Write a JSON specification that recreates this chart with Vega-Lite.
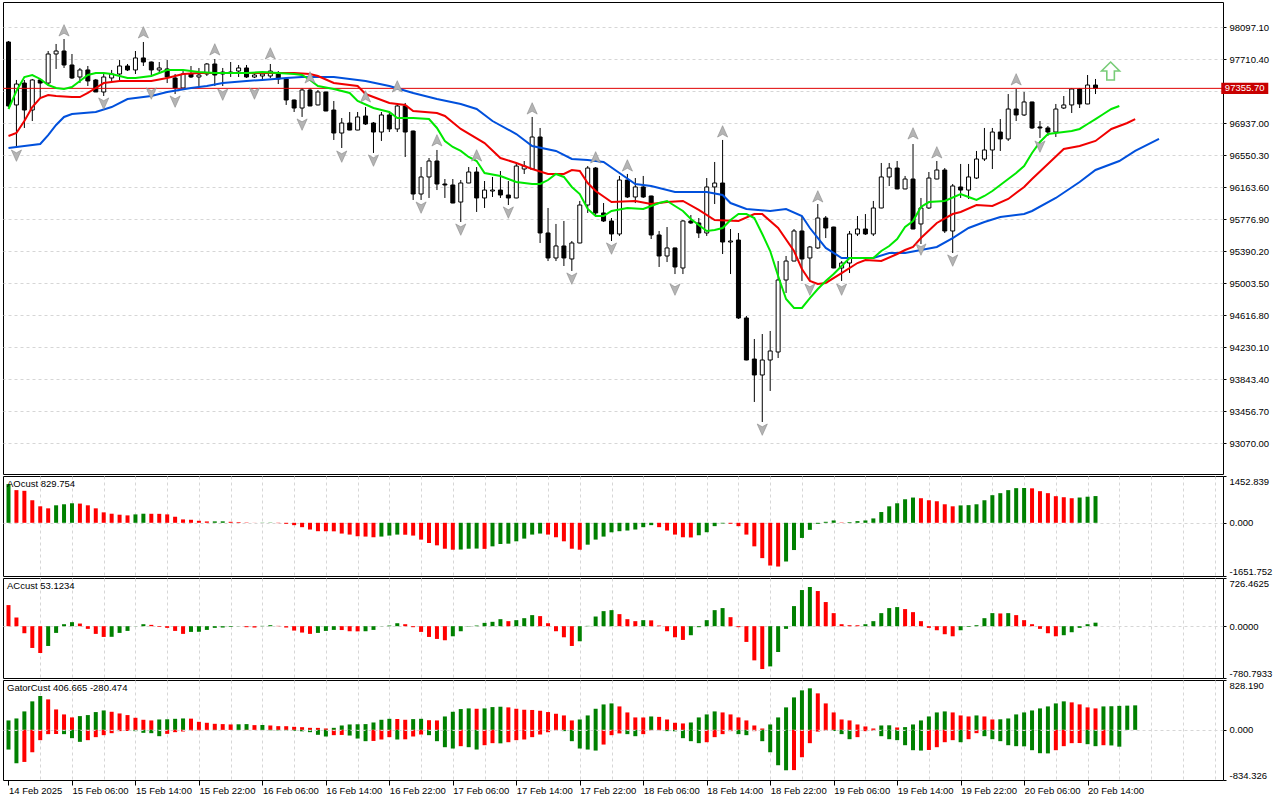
{
  "$schema": "https://vega.github.io/schema/vega-lite/v6.json",
  "background": "#ffffff",
  "padding": {"left": 2, "top": 1, "right": 0, "bottom": 0},
  "spacing": 2,
  "bounds": "flush",
  "resolve": {"scale": {"color": "independent", "shape": "independent"}},
  "config": {
    "font": "Liberation Sans",
    "view": {"stroke": "#000000", "strokeWidth": 1},
    "axis": {
      "labelFont": "Liberation Sans",
      "labelFontSize": 9.5,
      "labelColor": "#000000",
      "tickColor": "#000000",
      "gridColor": "#d6d6d6",
      "gridDash": [3, 3],
      "domain": false,
      "labelOverlap": false
    },
    "title": {
      "font": "Liberation Sans",
      "fontSize": 9.5,
      "fontWeight": "normal",
      "color": "#000000",
      "anchor": "start",
      "orient": "top",
      "offset": -13,
      "baseline": "alphabetic",
      "dx": 4,
      "frame": "group"
    }
  },
  "datasets": {
    "bars": [
      {"i":0,"o":97916,"h":97928,"l":97130,"c":97143},
      {"i":1,"o":97155,"h":97457,"l":96635,"c":97408},
      {"i":2,"o":97420,"h":97457,"l":96877,"c":97094},
      {"i":3,"o":97094,"h":97469,"l":96961,"c":97457},
      {"i":4,"o":97457,"h":97469,"l":97239,"c":97420},
      {"i":5,"o":97420,"h":97807,"l":97408,"c":97771},
      {"i":6,"o":97771,"h":97892,"l":97590,"c":97807},
      {"i":7,"o":97807,"h":97952,"l":97602,"c":97638},
      {"i":8,"o":97638,"h":97771,"l":97469,"c":97481},
      {"i":9,"o":97493,"h":97602,"l":97420,"c":97578},
      {"i":10,"o":97578,"h":97626,"l":97384,"c":97445},
      {"i":11,"o":97457,"h":97469,"l":97312,"c":97312},
      {"i":12,"o":97312,"h":97529,"l":97263,"c":97493},
      {"i":13,"o":97481,"h":97578,"l":97445,"c":97529},
      {"i":14,"o":97529,"h":97698,"l":97445,"c":97626},
      {"i":15,"o":97626,"h":97650,"l":97565,"c":97578},
      {"i":16,"o":97578,"h":97807,"l":97529,"c":97723},
      {"i":17,"o":97723,"h":97916,"l":97626,"c":97674},
      {"i":18,"o":97674,"h":97680,"l":97505,"c":97578},
      {"i":19,"o":97578,"h":97674,"l":97541,"c":97602},
      {"i":20,"o":97590,"h":97698,"l":97420,"c":97493},
      {"i":21,"o":97481,"h":97529,"l":97287,"c":97360},
      {"i":22,"o":97360,"h":97565,"l":97355,"c":97529},
      {"i":23,"o":97529,"h":97626,"l":97481,"c":97493},
      {"i":24,"o":97493,"h":97602,"l":97384,"c":97517},
      {"i":25,"o":97529,"h":97662,"l":97505,"c":97650},
      {"i":26,"o":97650,"h":97710,"l":97384,"c":97517},
      {"i":27,"o":97553,"h":97602,"l":97384,"c":97529},
      {"i":28,"o":97553,"h":97674,"l":97493,"c":97541},
      {"i":29,"o":97565,"h":97638,"l":97493,"c":97602},
      {"i":30,"o":97602,"h":97638,"l":97481,"c":97493},
      {"i":31,"o":97493,"h":97553,"l":97481,"c":97517},
      {"i":32,"o":97505,"h":97553,"l":97445,"c":97529},
      {"i":33,"o":97505,"h":97650,"l":97481,"c":97565},
      {"i":34,"o":97541,"h":97565,"l":97408,"c":97469},
      {"i":35,"o":97469,"h":97481,"l":97155,"c":97215},
      {"i":36,"o":97215,"h":97220,"l":97070,"c":97118},
      {"i":37,"o":97118,"h":97360,"l":97010,"c":97336},
      {"i":38,"o":97336,"h":97360,"l":97140,"c":97143},
      {"i":39,"o":97155,"h":97336,"l":97150,"c":97312},
      {"i":40,"o":97312,"h":97315,"l":97080,"c":97082},
      {"i":41,"o":97094,"h":97203,"l":96732,"c":96816},
      {"i":42,"o":96816,"h":96997,"l":96635,"c":96937},
      {"i":43,"o":96937,"h":97070,"l":96850,"c":96852},
      {"i":44,"o":96852,"h":97070,"l":96850,"c":97010},
      {"i":45,"o":97022,"h":97130,"l":96913,"c":96925},
      {"i":46,"o":96937,"h":96949,"l":96575,"c":96828},
      {"i":47,"o":96828,"h":97070,"l":96720,"c":97034},
      {"i":48,"o":97034,"h":97082,"l":96828,"c":96865},
      {"i":49,"o":96865,"h":97179,"l":96828,"c":97143},
      {"i":50,"o":97143,"h":97179,"l":96526,"c":96828},
      {"i":51,"o":96840,"h":96845,"l":96007,"c":96079},
      {"i":52,"o":96079,"h":96405,"l":96007,"c":96285},
      {"i":53,"o":96285,"h":96514,"l":96031,"c":96478},
      {"i":54,"o":96478,"h":96611,"l":96127,"c":96200},
      {"i":55,"o":96200,"h":96260,"l":96031,"c":96188},
      {"i":56,"o":96188,"h":96260,"l":95968,"c":95970},
      {"i":57,"o":95982,"h":96248,"l":95741,"c":96212},
      {"i":58,"o":96212,"h":96405,"l":96210,"c":96345},
      {"i":59,"o":96345,"h":96405,"l":95862,"c":96031},
      {"i":60,"o":96031,"h":96236,"l":95910,"c":96127},
      {"i":61,"o":96115,"h":96285,"l":96043,"c":96127},
      {"i":62,"o":96127,"h":96357,"l":96031,"c":96067},
      {"i":63,"o":96067,"h":96236,"l":95946,"c":96031},
      {"i":64,"o":96031,"h":96454,"l":96028,"c":96417},
      {"i":65,"o":96381,"h":96478,"l":96321,"c":96417},
      {"i":66,"o":96381,"h":97010,"l":96378,"c":96768},
      {"i":67,"o":96768,"h":96877,"l":95487,"c":95608},
      {"i":68,"o":95608,"h":95910,"l":95269,"c":95306},
      {"i":69,"o":95306,"h":95717,"l":95269,"c":95451},
      {"i":70,"o":95451,"h":95753,"l":95209,"c":95306},
      {"i":71,"o":95294,"h":95511,"l":95149,"c":95487},
      {"i":72,"o":95487,"h":95995,"l":95484,"c":95946},
      {"i":73,"o":95946,"h":96417,"l":95850,"c":96393},
      {"i":74,"o":96393,"h":96405,"l":95825,"c":95850},
      {"i":75,"o":95850,"h":95970,"l":95741,"c":95753},
      {"i":76,"o":95753,"h":95789,"l":95511,"c":95596},
      {"i":77,"o":95596,"h":96297,"l":95572,"c":96248},
      {"i":78,"o":96248,"h":96321,"l":96031,"c":96043},
      {"i":79,"o":96043,"h":96272,"l":95970,"c":96164},
      {"i":80,"o":96164,"h":96297,"l":96031,"c":96043},
      {"i":81,"o":96055,"h":96058,"l":95535,"c":95584},
      {"i":82,"o":95584,"h":95632,"l":95197,"c":95330},
      {"i":83,"o":95330,"h":95680,"l":95257,"c":95427},
      {"i":84,"o":95427,"h":95430,"l":95112,"c":95197},
      {"i":85,"o":95185,"h":95765,"l":95112,"c":95753},
      {"i":86,"o":95753,"h":95825,"l":95717,"c":95729},
      {"i":87,"o":95729,"h":95789,"l":95547,"c":95608},
      {"i":88,"o":95608,"h":96272,"l":95572,"c":96164},
      {"i":89,"o":96164,"h":96466,"l":95958,"c":96212},
      {"i":90,"o":96212,"h":96732,"l":95354,"c":95499},
      {"i":91,"o":95499,"h":95656,"l":95112,"c":95511},
      {"i":92,"o":95523,"h":95608,"l":94569,"c":94581},
      {"i":93,"o":94581,"h":94605,"l":94070,"c":94073},
      {"i":94,"o":94085,"h":94327,"l":93566,"c":93892},
      {"i":95,"o":93892,"h":94387,"l":93324,"c":94073},
      {"i":96,"o":94073,"h":94424,"l":93699,"c":94182},
      {"i":97,"o":94170,"h":95269,"l":94097,"c":95040},
      {"i":98,"o":95040,"h":95330,"l":94883,"c":95269},
      {"i":99,"o":95269,"h":95656,"l":95266,"c":95632},
      {"i":100,"o":95632,"h":95813,"l":95028,"c":95294},
      {"i":101,"o":95306,"h":95451,"l":95028,"c":95439},
      {"i":102,"o":95427,"h":95958,"l":95415,"c":95789},
      {"i":103,"o":95789,"h":95813,"l":95547,"c":95668},
      {"i":104,"o":95680,"h":95683,"l":95182,"c":95185},
      {"i":105,"o":95185,"h":95269,"l":95028,"c":95245},
      {"i":106,"o":95245,"h":95632,"l":95124,"c":95596},
      {"i":107,"o":95596,"h":95813,"l":95572,"c":95656},
      {"i":108,"o":95656,"h":95837,"l":95584,"c":95596},
      {"i":109,"o":95596,"h":95995,"l":95572,"c":95910},
      {"i":110,"o":95910,"h":96454,"l":95907,"c":96285},
      {"i":111,"o":96285,"h":96454,"l":96176,"c":96393},
      {"i":112,"o":96393,"h":96478,"l":96137,"c":96140},
      {"i":113,"o":96140,"h":96297,"l":96137,"c":96260},
      {"i":114,"o":96260,"h":96683,"l":95653,"c":95656},
      {"i":115,"o":95717,"h":96031,"l":95475,"c":95910},
      {"i":116,"o":95910,"h":96345,"l":95898,"c":96272},
      {"i":117,"o":96260,"h":96478,"l":96257,"c":96369},
      {"i":118,"o":96369,"h":96393,"l":95608,"c":95632},
      {"i":119,"o":95632,"h":96200,"l":95366,"c":96176},
      {"i":120,"o":96164,"h":96442,"l":96031,"c":96127},
      {"i":121,"o":96127,"h":96442,"l":96019,"c":96285},
      {"i":122,"o":96272,"h":96599,"l":96260,"c":96502},
      {"i":123,"o":96502,"h":96877,"l":96478,"c":96611},
      {"i":124,"o":96611,"h":96877,"l":96381,"c":96828},
      {"i":125,"o":96828,"h":96985,"l":96599,"c":96744},
      {"i":126,"o":96744,"h":97287,"l":96720,"c":97106},
      {"i":127,"o":97106,"h":97348,"l":96961,"c":97034},
      {"i":128,"o":97034,"h":97312,"l":97022,"c":97191},
      {"i":129,"o":97191,"h":97194,"l":96865,"c":96877},
      {"i":130,"o":96889,"h":96961,"l":96756,"c":96877},
      {"i":131,"o":96877,"h":96901,"l":96780,"c":96828},
      {"i":132,"o":96828,"h":97167,"l":96768,"c":97106},
      {"i":133,"o":97118,"h":97263,"l":97106,"c":97155},
      {"i":134,"o":97155,"h":97360,"l":97058,"c":97348},
      {"i":135,"o":97348,"h":97360,"l":97118,"c":97167},
      {"i":136,"o":97167,"h":97517,"l":97164,"c":97396},
      {"i":137,"o":97396,"h":97469,"l":97287,"c":97355.7}
    ],
    "ma": [
      {"k":"jaw","i":0,"p":96635},{"k":"jaw","i":2,"p":96659},{"k":"jaw","i":4,"p":96683},{"k":"jaw","i":5,"p":96790},
      {"k":"jaw","i":6,"p":96913},{"k":"jaw","i":7,"p":97010},{"k":"jaw","i":8,"p":97046},{"k":"jaw","i":11,"p":97070},
      {"k":"jaw","i":13,"p":97130},{"k":"jaw","i":15,"p":97227},{"k":"jaw","i":18,"p":97263},{"k":"jaw","i":20,"p":97312},
      {"k":"jaw","i":23,"p":97360},{"k":"jaw","i":25,"p":97384},{"k":"jaw","i":27,"p":97420},{"k":"jaw","i":30,"p":97445},
      {"k":"jaw","i":32,"p":97457},{"k":"jaw","i":35,"p":97481},{"k":"jaw","i":37,"p":97493},{"k":"jaw","i":41,"p":97493},
      {"k":"jaw","i":45,"p":97445},{"k":"jaw","i":48,"p":97384},{"k":"jaw","i":51,"p":97300},{"k":"jaw","i":54,"p":97227},
      {"k":"jaw","i":57,"p":97167},{"k":"jaw","i":59,"p":97106},{"k":"jaw","i":61,"p":96961},{"k":"jaw","i":64,"p":96804},
      {"k":"jaw","i":66,"p":96659},{"k":"jaw","i":69,"p":96599},{"k":"jaw","i":71,"p":96502},{"k":"jaw","i":73,"p":96490},
      {"k":"jaw","i":75,"p":96466},{"k":"jaw","i":77,"p":96333},{"k":"jaw","i":79,"p":96200},{"k":"jaw","i":81,"p":96176},
      {"k":"jaw","i":84,"p":96103},{"k":"jaw","i":88,"p":96103},{"k":"jaw","i":90,"p":96067},{"k":"jaw","i":91,"p":95970},
      {"k":"jaw","i":93,"p":95898},{"k":"jaw","i":96,"p":95874},{"k":"jaw","i":98,"p":95898},{"k":"jaw","i":100,"p":95813},
      {"k":"jaw","i":101,"p":95668},{"k":"jaw","i":103,"p":95427},{"k":"jaw","i":105,"p":95306},{"k":"jaw","i":107,"p":95306},
      {"k":"jaw","i":109,"p":95306},{"k":"jaw","i":111,"p":95366},{"k":"jaw","i":113,"p":95366},{"k":"jaw","i":115,"p":95402},
      {"k":"jaw","i":117,"p":95439},{"k":"jaw","i":119,"p":95547},{"k":"jaw","i":121,"p":95668},{"k":"jaw","i":123,"p":95741},
      {"k":"jaw","i":125,"p":95801},{"k":"jaw","i":128,"p":95837},{"k":"jaw","i":129,"p":95874},{"k":"jaw","i":132,"p":96031},
      {"k":"jaw","i":135,"p":96224},{"k":"jaw","i":137,"p":96369},{"k":"jaw","i":140,"p":96478},{"k":"jaw","i":142,"p":96599},
      {"k":"jaw","i":145,"p":96744},
      {"k":"teeth","i":0,"p":96780},{"k":"teeth","i":1,"p":96816},{"k":"teeth","i":2,"p":96961},{"k":"teeth","i":3,"p":97130},
      {"k":"teeth","i":4,"p":97239},{"k":"teeth","i":5,"p":97275},{"k":"teeth","i":6,"p":97263},{"k":"teeth","i":8,"p":97251},
      {"k":"teeth","i":9,"p":97251},{"k":"teeth","i":10,"p":97300},{"k":"teeth","i":11,"p":97360},{"k":"teeth","i":12,"p":97420},
      {"k":"teeth","i":14,"p":97445},{"k":"teeth","i":16,"p":97445},{"k":"teeth","i":18,"p":97445},{"k":"teeth","i":20,"p":97481},
      {"k":"teeth","i":22,"p":97529},{"k":"teeth","i":24,"p":97541},{"k":"teeth","i":28,"p":97541},{"k":"teeth","i":32,"p":97541},
      {"k":"teeth","i":36,"p":97541},{"k":"teeth","i":38,"p":97529},{"k":"teeth","i":39,"p":97505},{"k":"teeth","i":41,"p":97420},
      {"k":"teeth","i":44,"p":97384},{"k":"teeth","i":45,"p":97287},{"k":"teeth","i":48,"p":97179},{"k":"teeth","i":50,"p":97155},
      {"k":"teeth","i":51,"p":97082},{"k":"teeth","i":54,"p":97058},{"k":"teeth","i":55,"p":97022},{"k":"teeth","i":57,"p":96865},
      {"k":"teeth","i":60,"p":96695},{"k":"teeth","i":62,"p":96514},{"k":"teeth","i":64,"p":96454},{"k":"teeth","i":66,"p":96381},
      {"k":"teeth","i":68,"p":96321},{"k":"teeth","i":70,"p":96321},{"k":"teeth","i":71,"p":96369},{"k":"teeth","i":72,"p":96357},
      {"k":"teeth","i":73,"p":96212},{"k":"teeth","i":74,"p":96115},{"k":"teeth","i":76,"p":95982},{"k":"teeth","i":79,"p":95995},
      {"k":"teeth","i":81,"p":95958},{"k":"teeth","i":83,"p":95982},{"k":"teeth","i":85,"p":95995},{"k":"teeth","i":87,"p":95886},
      {"k":"teeth","i":89,"p":95765},{"k":"teeth","i":92,"p":95753},{"k":"teeth","i":94,"p":95837},{"k":"teeth","i":95,"p":95837},
      {"k":"teeth","i":97,"p":95668},{"k":"teeth","i":99,"p":95390},{"k":"teeth","i":100,"p":95173},{"k":"teeth","i":101,"p":95028},
      {"k":"teeth","i":102,"p":94992},{"k":"teeth","i":103,"p":95004},{"k":"teeth","i":105,"p":95124},{"k":"teeth","i":107,"p":95245},
      {"k":"teeth","i":108,"p":95282},{"k":"teeth","i":110,"p":95269},{"k":"teeth","i":112,"p":95354},{"k":"teeth","i":113,"p":95402},
      {"k":"teeth","i":114,"p":95439},{"k":"teeth","i":115,"p":95547},{"k":"teeth","i":117,"p":95729},{"k":"teeth","i":119,"p":95837},
      {"k":"teeth","i":120,"p":95862},{"k":"teeth","i":122,"p":95946},{"k":"teeth","i":124,"p":95934},{"k":"teeth","i":126,"p":96019},
      {"k":"teeth","i":128,"p":96164},{"k":"teeth","i":129,"p":96260},{"k":"teeth","i":131,"p":96442},{"k":"teeth","i":133,"p":96623},
      {"k":"teeth","i":135,"p":96659},{"k":"teeth","i":137,"p":96720},{"k":"teeth","i":139,"p":96865},{"k":"teeth","i":141,"p":96937},
      {"k":"teeth","i":142,"p":96985},
      {"k":"lips","i":0,"p":97106},{"k":"lips","i":1,"p":97324},{"k":"lips","i":2,"p":97493},{"k":"lips","i":3,"p":97517},
      {"k":"lips","i":4,"p":97469},{"k":"lips","i":5,"p":97396},{"k":"lips","i":6,"p":97360},{"k":"lips","i":7,"p":97348},
      {"k":"lips","i":8,"p":97372},{"k":"lips","i":9,"p":97445},{"k":"lips","i":10,"p":97517},{"k":"lips","i":11,"p":97541},
      {"k":"lips","i":12,"p":97541},{"k":"lips","i":13,"p":97529},{"k":"lips","i":14,"p":97505},{"k":"lips","i":15,"p":97481},
      {"k":"lips","i":16,"p":97481},{"k":"lips","i":17,"p":97493},{"k":"lips","i":18,"p":97505},{"k":"lips","i":19,"p":97541},
      {"k":"lips","i":20,"p":97578},{"k":"lips","i":22,"p":97578},{"k":"lips","i":24,"p":97553},{"k":"lips","i":26,"p":97541},
      {"k":"lips","i":28,"p":97541},{"k":"lips","i":30,"p":97541},{"k":"lips","i":32,"p":97553},{"k":"lips","i":34,"p":97541},
      {"k":"lips","i":36,"p":97529},{"k":"lips","i":37,"p":97517},{"k":"lips","i":38,"p":97457},{"k":"lips","i":39,"p":97384},
      {"k":"lips","i":41,"p":97348},{"k":"lips","i":43,"p":97300},{"k":"lips","i":44,"p":97203},{"k":"lips","i":46,"p":97118},
      {"k":"lips","i":48,"p":97070},{"k":"lips","i":49,"p":96997},{"k":"lips","i":51,"p":96997},{"k":"lips","i":53,"p":96985},
      {"k":"lips","i":54,"p":96877},{"k":"lips","i":55,"p":96720},{"k":"lips","i":56,"p":96647},{"k":"lips","i":57,"p":96599},
      {"k":"lips","i":58,"p":96526},{"k":"lips","i":59,"p":96478},{"k":"lips","i":60,"p":96333},{"k":"lips","i":62,"p":96297},
      {"k":"lips","i":64,"p":96224},{"k":"lips","i":66,"p":96200},{"k":"lips","i":67,"p":96200},{"k":"lips","i":68,"p":96248},
      {"k":"lips","i":69,"p":96321},{"k":"lips","i":70,"p":96285},{"k":"lips","i":71,"p":96164},{"k":"lips","i":72,"p":96079},
      {"k":"lips","i":73,"p":95898},{"k":"lips","i":74,"p":95813},{"k":"lips","i":75,"p":95813},{"k":"lips","i":76,"p":95874},
      {"k":"lips","i":78,"p":95910},{"k":"lips","i":80,"p":95898},{"k":"lips","i":82,"p":95970},{"k":"lips","i":83,"p":95995},
      {"k":"lips","i":84,"p":95934},{"k":"lips","i":85,"p":95874},{"k":"lips","i":86,"p":95777},{"k":"lips","i":88,"p":95632},
      {"k":"lips","i":89,"p":95644},{"k":"lips","i":90,"p":95668},{"k":"lips","i":91,"p":95765},{"k":"lips","i":92,"p":95837},
      {"k":"lips","i":93,"p":95837},{"k":"lips","i":94,"p":95789},{"k":"lips","i":95,"p":95596},{"k":"lips","i":96,"p":95390},
      {"k":"lips","i":97,"p":95088},{"k":"lips","i":98,"p":94810},{"k":"lips","i":99,"p":94702},{"k":"lips","i":100,"p":94702},
      {"k":"lips","i":101,"p":94822},{"k":"lips","i":102,"p":94931},{"k":"lips","i":103,"p":95028},{"k":"lips","i":104,"p":95112},
      {"k":"lips","i":105,"p":95209},{"k":"lips","i":106,"p":95306},{"k":"lips","i":108,"p":95306},{"k":"lips","i":109,"p":95306},
      {"k":"lips","i":110,"p":95390},{"k":"lips","i":111,"p":95451},{"k":"lips","i":112,"p":95535},{"k":"lips","i":113,"p":95680},
      {"k":"lips","i":114,"p":95753},{"k":"lips","i":115,"p":95922},{"k":"lips","i":116,"p":95982},{"k":"lips","i":118,"p":95995},
      {"k":"lips","i":120,"p":96079},{"k":"lips","i":121,"p":96043},{"k":"lips","i":122,"p":96007},{"k":"lips","i":123,"p":96055},
      {"k":"lips","i":124,"p":96115},{"k":"lips","i":125,"p":96188},{"k":"lips","i":126,"p":96260},{"k":"lips","i":127,"p":96333},
      {"k":"lips","i":128,"p":96417},{"k":"lips","i":129,"p":96575},{"k":"lips","i":130,"p":96708},{"k":"lips","i":131,"p":96804},
      {"k":"lips","i":132,"p":96816},{"k":"lips","i":133,"p":96828},{"k":"lips","i":134,"p":96840},{"k":"lips","i":135,"p":96865},
      {"k":"lips","i":136,"p":96925},{"k":"lips","i":137,"p":96985},{"k":"lips","i":138,"p":97046},{"k":"lips","i":139,"p":97106},
      {"k":"lips","i":140,"p":97143}
    ],
    "fractals": [
      {"i":7,"p":98049,"t":"up"},{"i":17,"p":98025,"t":"up"},{"i":26,"p":97819,"t":"up"},{"i":33,"p":97771,"t":"up"},
      {"i":38,"p":97481,"t":"up"},{"i":45,"p":97251,"t":"up"},{"i":49,"p":97372,"t":"up"},{"i":54,"p":96720,"t":"up"},
      {"i":59,"p":96538,"t":"up"},{"i":66,"p":97106,"t":"up"},{"i":74,"p":96514,"t":"up"},{"i":78,"p":96417,"t":"up"},
      {"i":90,"p":96828,"t":"up"},{"i":102,"p":96043,"t":"up"},{"i":114,"p":96804,"t":"up"},{"i":117,"p":96575,"t":"up"},
      {"i":127,"p":97457,"t":"up"},
      {"i":1,"p":96550,"t":"down"},{"i":12,"p":97179,"t":"down"},{"i":18,"p":97300,"t":"down"},{"i":21,"p":97203,"t":"down"},
      {"i":27,"p":97287,"t":"down"},{"i":31,"p":97300,"t":"down"},{"i":37,"p":96925,"t":"down"},{"i":42,"p":96538,"t":"down"},
      {"i":46,"p":96490,"t":"down"},{"i":52,"p":95922,"t":"down"},{"i":57,"p":95656,"t":"down"},{"i":63,"p":95862,"t":"down"},
      {"i":71,"p":95064,"t":"down"},{"i":76,"p":95427,"t":"down"},{"i":84,"p":94931,"t":"down"},{"i":95,"p":93239,"t":"down"},
      {"i":101,"p":94931,"t":"down"},{"i":105,"p":94931,"t":"down"},{"i":115,"p":95415,"t":"down"},{"i":119,"p":95282,"t":"down"},
      {"i":130,"p":96659,"t":"down"}
    ],
    "signal": [{"i":138.9,"p":97565}],
    "last": [{"p":97355.7}],
    "ao": [
      {"i":0,"v":1202,"d":"g"},{"i":1,"v":1014,"d":"r"},{"i":2,"v":993,"d":"r"},{"i":3,"v":700,"d":"r"},{"i":4,"v":512,"d":"r"},
      {"i":5,"v":449,"d":"r"},{"i":6,"v":543,"d":"g"},{"i":7,"v":575,"d":"g"},{"i":8,"v":606,"d":"g"},{"i":9,"v":596,"d":"r"},
      {"i":10,"v":543,"d":"r"},{"i":11,"v":449,"d":"r"},{"i":12,"v":324,"d":"r"},{"i":13,"v":282,"d":"r"},{"i":14,"v":251,"d":"r"},
      {"i":15,"v":230,"d":"r"},{"i":16,"v":261,"d":"g"},{"i":17,"v":282,"d":"g"},{"i":18,"v":280,"d":"r"},{"i":19,"v":278,"d":"r"},
      {"i":20,"v":261,"d":"r"},{"i":21,"v":188,"d":"r"},{"i":22,"v":105,"d":"r"},{"i":23,"v":94,"d":"r"},{"i":24,"v":63,"d":"r"},
      {"i":25,"v":42,"d":"r"},{"i":26,"v":44,"d":"g"},{"i":27,"v":45,"d":"g"},{"i":28,"v":31,"d":"r"},{"i":29,"v":21,"d":"r"},
      {"i":30,"v":10,"d":"r"},{"i":31,"v":3,"d":"r"},{"i":32,"v":6,"d":"g"},{"i":33,"v":8,"d":"g"},{"i":34,"v":-10,"d":"r"},
      {"i":35,"v":-31,"d":"r"},{"i":36,"v":-73,"d":"r"},{"i":37,"v":-136,"d":"r"},{"i":38,"v":-209,"d":"r"},{"i":39,"v":-261,"d":"r"},
      {"i":40,"v":-262,"d":"r"},{"i":41,"v":-265,"d":"r"},{"i":42,"v":-334,"d":"r"},{"i":43,"v":-366,"d":"r"},{"i":44,"v":-418,"d":"r"},
      {"i":45,"v":-428,"d":"r"},{"i":46,"v":-449,"d":"r"},{"i":47,"v":-428,"d":"g"},{"i":48,"v":-397,"d":"g"},{"i":49,"v":-366,"d":"g"},
      {"i":50,"v":-370,"d":"r"},{"i":51,"v":-397,"d":"r"},{"i":52,"v":-522,"d":"r"},{"i":53,"v":-627,"d":"r"},{"i":54,"v":-700,"d":"r"},
      {"i":55,"v":-805,"d":"r"},{"i":56,"v":-836,"d":"r"},{"i":57,"v":-830,"d":"g"},{"i":58,"v":-805,"d":"g"},{"i":59,"v":-800,"d":"g"},
      {"i":60,"v":-810,"d":"r"},{"i":61,"v":-731,"d":"g"},{"i":62,"v":-658,"d":"g"},{"i":63,"v":-648,"d":"g"},{"i":64,"v":-575,"d":"g"},
      {"i":65,"v":-491,"d":"g"},{"i":66,"v":-366,"d":"g"},{"i":67,"v":-334,"d":"g"},{"i":68,"v":-366,"d":"r"},{"i":69,"v":-449,"d":"r"},
      {"i":70,"v":-575,"d":"r"},{"i":71,"v":-805,"d":"r"},{"i":72,"v":-836,"d":"r"},{"i":73,"v":-679,"d":"g"},{"i":74,"v":-522,"d":"g"},
      {"i":75,"v":-428,"d":"g"},{"i":76,"v":-295,"d":"g"},{"i":77,"v":-261,"d":"g"},{"i":78,"v":-240,"d":"g"},{"i":79,"v":-209,"d":"g"},
      {"i":80,"v":-136,"d":"g"},{"i":81,"v":-73,"d":"g"},{"i":82,"v":-136,"d":"r"},{"i":83,"v":-240,"d":"r"},{"i":84,"v":-366,"d":"r"},
      {"i":85,"v":-449,"d":"r"},{"i":86,"v":-455,"d":"r"},{"i":87,"v":-387,"d":"g"},{"i":88,"v":-293,"d":"g"},{"i":89,"v":-104,"d":"g"},
      {"i":90,"v":-21,"d":"g"},{"i":91,"v":-30,"d":"r"},{"i":92,"v":-104,"d":"r"},{"i":93,"v":-366,"d":"r"},{"i":94,"v":-731,"d":"r"},
      {"i":95,"v":-1097,"d":"r"},{"i":96,"v":-1327,"d":"r"},{"i":97,"v":-1358,"d":"r"},{"i":98,"v":-1202,"d":"g"},{"i":99,"v":-846,"d":"g"},
      {"i":100,"v":-470,"d":"g"},{"i":101,"v":-219,"d":"g"},{"i":102,"v":-31,"d":"g"},{"i":103,"v":31,"d":"g"},{"i":104,"v":73,"d":"g"},
      {"i":105,"v":10,"d":"r"},{"i":106,"v":21,"d":"g"},{"i":107,"v":52,"d":"g"},{"i":108,"v":73,"d":"g"},{"i":109,"v":136,"d":"g"},
      {"i":110,"v":334,"d":"g"},{"i":111,"v":512,"d":"g"},{"i":112,"v":606,"d":"g"},{"i":113,"v":731,"d":"g"},{"i":114,"v":784,"d":"g"},
      {"i":115,"v":763,"d":"r"},{"i":116,"v":700,"d":"r"},{"i":117,"v":669,"d":"r"},{"i":118,"v":575,"d":"r"},{"i":119,"v":512,"d":"r"},
      {"i":120,"v":540,"d":"g"},{"i":121,"v":548,"d":"g"},{"i":122,"v":575,"d":"g"},{"i":123,"v":700,"d":"g"},{"i":124,"v":857,"d":"g"},
      {"i":125,"v":920,"d":"g"},{"i":126,"v":1014,"d":"g"},{"i":127,"v":1076,"d":"g"},{"i":128,"v":1080,"d":"g"},{"i":129,"v":1070,"d":"r"},
      {"i":130,"v":982,"d":"r"},{"i":131,"v":920,"d":"r"},{"i":132,"v":826,"d":"r"},{"i":133,"v":794,"d":"r"},{"i":134,"v":763,"d":"r"},
      {"i":135,"v":785,"d":"g"},{"i":136,"v":810,"d":"g"},{"i":137,"v":829.754,"d":"g"}
    ],
    "ac": [
      {"i":0,"v":318,"d":"r"},{"i":1,"v":131,"d":"r"},{"i":2,"v":-106,"d":"r"},{"i":3,"v":-328,"d":"r"},{"i":4,"v":-404,"d":"r"},
      {"i":5,"v":-298,"d":"g"},{"i":6,"v":-101,"d":"g"},{"i":7,"v":30,"d":"g"},{"i":8,"v":61,"d":"g"},{"i":9,"v":40,"d":"r"},
      {"i":10,"v":-40,"d":"r"},{"i":11,"v":-116,"d":"r"},{"i":12,"v":-162,"d":"r"},{"i":13,"v":-160,"d":"g"},{"i":14,"v":-101,"d":"g"},
      {"i":15,"v":-71,"d":"g"},{"i":16,"v":2,"d":"g"},{"i":17,"v":30,"d":"g"},{"i":18,"v":20,"d":"r"},{"i":19,"v":-10,"d":"r"},
      {"i":20,"v":-25,"d":"r"},{"i":21,"v":-71,"d":"r"},{"i":22,"v":-116,"d":"r"},{"i":23,"v":-86,"d":"g"},{"i":24,"v":-84,"d":"g"},
      {"i":25,"v":-56,"d":"g"},{"i":26,"v":-25,"d":"g"},{"i":27,"v":-20,"d":"g"},{"i":28,"v":-10,"d":"g"},{"i":29,"v":-2,"d":"g"},
      {"i":30,"v":-15,"d":"r"},{"i":31,"v":-20,"d":"r"},{"i":32,"v":5,"d":"g"},{"i":33,"v":15,"d":"g"},{"i":34,"v":5,"d":"r"},
      {"i":35,"v":-20,"d":"r"},{"i":36,"v":-66,"d":"r"},{"i":37,"v":-96,"d":"r"},{"i":38,"v":-116,"d":"r"},{"i":39,"v":-101,"d":"g"},
      {"i":40,"v":-71,"d":"g"},{"i":41,"v":-56,"d":"g"},{"i":42,"v":-58,"d":"r"},{"i":43,"v":-76,"d":"r"},{"i":44,"v":-78,"d":"r"},
      {"i":45,"v":-76,"d":"g"},{"i":46,"v":-56,"d":"g"},{"i":47,"v":2,"d":"g"},{"i":48,"v":10,"d":"g"},{"i":49,"v":45,"d":"g"},
      {"i":50,"v":30,"d":"r"},{"i":51,"v":-15,"d":"r"},{"i":52,"v":-86,"d":"r"},{"i":53,"v":-162,"d":"r"},{"i":54,"v":-192,"d":"r"},
      {"i":55,"v":-212,"d":"r"},{"i":56,"v":-152,"d":"g"},{"i":57,"v":-76,"d":"g"},{"i":58,"v":-5,"d":"g"},{"i":59,"v":10,"d":"g"},
      {"i":60,"v":50,"d":"g"},{"i":61,"v":66,"d":"g"},{"i":62,"v":106,"d":"g"},{"i":63,"v":76,"d":"r"},{"i":64,"v":91,"d":"g"},
      {"i":65,"v":121,"d":"g"},{"i":66,"v":167,"d":"g"},{"i":67,"v":152,"d":"r"},{"i":68,"v":45,"d":"r"},{"i":69,"v":-76,"d":"r"},
      {"i":70,"v":-167,"d":"r"},{"i":71,"v":-298,"d":"r"},{"i":72,"v":-227,"d":"g"},{"i":73,"v":5,"d":"g"},{"i":74,"v":146,"d":"g"},
      {"i":75,"v":227,"d":"g"},{"i":76,"v":242,"d":"g"},{"i":77,"v":182,"d":"r"},{"i":78,"v":106,"d":"r"},{"i":79,"v":76,"d":"r"},
      {"i":80,"v":91,"d":"g"},{"i":81,"v":88,"d":"r"},{"i":82,"v":10,"d":"r"},{"i":83,"v":-76,"d":"r"},{"i":84,"v":-167,"d":"r"},
      {"i":85,"v":-207,"d":"r"},{"i":86,"v":-136,"d":"g"},{"i":87,"v":-15,"d":"g"},{"i":88,"v":91,"d":"g"},{"i":89,"v":242,"d":"g"},
      {"i":90,"v":273,"d":"g"},{"i":91,"v":136,"d":"r"},{"i":92,"v":-15,"d":"r"},{"i":93,"v":-237,"d":"r"},{"i":94,"v":-515,"d":"r"},
      {"i":95,"v":-646,"d":"r"},{"i":96,"v":-606,"d":"g"},{"i":97,"v":-389,"d":"g"},{"i":98,"v":-40,"d":"g"},{"i":99,"v":303,"d":"g"},
      {"i":100,"v":545,"d":"g"},{"i":101,"v":591,"d":"g"},{"i":102,"v":530,"d":"r"},{"i":103,"v":364,"d":"r"},{"i":104,"v":197,"d":"r"},
      {"i":105,"v":30,"d":"r"},{"i":106,"v":15,"d":"r"},{"i":107,"v":14,"d":"r"},{"i":108,"v":30,"d":"g"},{"i":109,"v":76,"d":"g"},
      {"i":110,"v":197,"d":"g"},{"i":111,"v":273,"d":"g"},{"i":112,"v":288,"d":"g"},{"i":113,"v":258,"d":"r"},{"i":114,"v":212,"d":"r"},
      {"i":115,"v":76,"d":"r"},{"i":116,"v":-25,"d":"r"},{"i":117,"v":-61,"d":"r"},{"i":118,"v":-121,"d":"r"},{"i":119,"v":-152,"d":"r"},
      {"i":120,"v":-61,"d":"g"},{"i":121,"v":-10,"d":"g"},{"i":122,"v":15,"d":"g"},{"i":123,"v":121,"d":"g"},{"i":124,"v":197,"d":"g"},
      {"i":125,"v":192,"d":"r"},{"i":126,"v":197,"d":"g"},{"i":127,"v":167,"d":"r"},{"i":128,"v":91,"d":"r"},{"i":129,"v":30,"d":"r"},
      {"i":130,"v":-40,"d":"r"},{"i":131,"v":-106,"d":"r"},{"i":132,"v":-152,"d":"r"},{"i":133,"v":-136,"d":"g"},{"i":134,"v":-91,"d":"g"},
      {"i":135,"v":-25,"d":"g"},{"i":136,"v":30,"d":"g"},{"i":137,"v":53.1234,"d":"g"}
    ],
    "gator": [
      {"i":0,"v":156,"d":"g"},{"i":1,"v":189,"d":"g"},{"i":2,"v":306,"d":"g"},{"i":3,"v":473,"d":"g"},{"i":4,"v":562,"d":"g"},
      {"i":5,"v":506,"d":"r"},{"i":6,"v":339,"d":"r"},{"i":7,"v":256,"d":"r"},{"i":8,"v":206,"d":"r"},{"i":9,"v":228,"d":"g"},
      {"i":10,"v":245,"d":"g"},{"i":11,"v":295,"d":"g"},{"i":12,"v":322,"d":"g"},{"i":13,"v":300,"d":"r"},{"i":14,"v":272,"d":"r"},
      {"i":15,"v":245,"d":"r"},{"i":16,"v":200,"d":"r"},{"i":17,"v":167,"d":"r"},{"i":18,"v":156,"d":"r"},{"i":19,"v":172,"d":"g"},
      {"i":20,"v":175,"d":"g"},{"i":21,"v":183,"d":"g"},{"i":22,"v":189,"d":"g"},{"i":23,"v":186,"d":"r"},{"i":24,"v":133,"d":"r"},
      {"i":25,"v":117,"d":"r"},{"i":26,"v":100,"d":"r"},{"i":27,"v":95,"d":"r"},{"i":28,"v":89,"d":"r"},{"i":29,"v":92,"d":"g"},
      {"i":30,"v":95,"d":"g"},{"i":31,"v":78,"d":"r"},{"i":32,"v":80,"d":"g"},{"i":33,"v":72,"d":"r"},{"i":34,"v":61,"d":"r"},
      {"i":35,"v":60,"d":"r"},{"i":36,"v":50,"d":"r"},{"i":37,"v":44,"d":"r"},{"i":38,"v":33,"d":"r"},{"i":39,"v":32,"d":"r"},
      {"i":40,"v":22,"d":"r"},{"i":41,"v":33,"d":"g"},{"i":42,"v":72,"d":"g"},{"i":43,"v":89,"d":"g"},{"i":44,"v":92,"d":"g"},
      {"i":45,"v":95,"d":"g"},{"i":46,"v":122,"d":"g"},{"i":47,"v":167,"d":"g"},{"i":48,"v":183,"d":"g"},{"i":49,"v":180,"d":"r"},
      {"i":50,"v":167,"d":"r"},{"i":51,"v":178,"d":"g"},{"i":52,"v":183,"d":"g"},{"i":53,"v":160,"d":"r"},{"i":54,"v":156,"d":"r"},
      {"i":55,"v":222,"d":"g"},{"i":56,"v":300,"d":"g"},{"i":57,"v":345,"d":"g"},{"i":58,"v":356,"d":"g"},{"i":59,"v":350,"d":"r"},
      {"i":60,"v":356,"d":"g"},{"i":61,"v":378,"d":"g"},{"i":62,"v":384,"d":"g"},{"i":63,"v":373,"d":"r"},{"i":64,"v":350,"d":"r"},
      {"i":65,"v":334,"d":"r"},{"i":66,"v":330,"d":"r"},{"i":67,"v":317,"d":"r"},{"i":68,"v":295,"d":"r"},{"i":69,"v":267,"d":"r"},
      {"i":70,"v":239,"d":"r"},{"i":71,"v":156,"d":"r"},{"i":72,"v":172,"d":"g"},{"i":73,"v":239,"d":"g"},{"i":74,"v":350,"d":"g"},
      {"i":75,"v":422,"d":"g"},{"i":76,"v":439,"d":"g"},{"i":77,"v":389,"d":"r"},{"i":78,"v":289,"d":"r"},{"i":79,"v":206,"d":"r"},
      {"i":80,"v":205,"d":"r"},{"i":81,"v":222,"d":"g"},{"i":82,"v":215,"d":"r"},{"i":83,"v":172,"d":"r"},{"i":84,"v":117,"d":"r"},
      {"i":85,"v":106,"d":"r"},{"i":86,"v":122,"d":"g"},{"i":87,"v":206,"d":"g"},{"i":88,"v":256,"d":"g"},{"i":89,"v":306,"d":"g"},
      {"i":90,"v":289,"d":"r"},{"i":91,"v":256,"d":"r"},{"i":92,"v":206,"d":"r"},{"i":93,"v":156,"d":"r"},{"i":94,"v":72,"d":"r"},
      {"i":95,"v":22,"d":"r"},{"i":96,"v":89,"d":"g"},{"i":97,"v":206,"d":"g"},{"i":98,"v":373,"d":"g"},{"i":99,"v":539,"d":"g"},
      {"i":100,"v":656,"d":"g"},{"i":101,"v":690,"d":"g"},{"i":102,"v":606,"d":"r"},{"i":103,"v":439,"d":"r"},{"i":104,"v":289,"d":"r"},
      {"i":105,"v":172,"d":"r"},{"i":106,"v":156,"d":"r"},{"i":107,"v":89,"d":"r"},{"i":108,"v":56,"d":"r"},{"i":109,"v":22,"d":"r"},
      {"i":110,"v":72,"d":"g"},{"i":111,"v":75,"d":"g"},{"i":112,"v":39,"d":"r"},{"i":113,"v":45,"d":"g"},{"i":114,"v":89,"d":"g"},
      {"i":115,"v":156,"d":"g"},{"i":116,"v":222,"d":"g"},{"i":117,"v":289,"d":"g"},{"i":118,"v":306,"d":"g"},{"i":119,"v":289,"d":"r"},
      {"i":120,"v":239,"d":"r"},{"i":121,"v":222,"d":"r"},{"i":122,"v":239,"d":"g"},{"i":123,"v":222,"d":"r"},{"i":124,"v":172,"d":"r"},
      {"i":125,"v":175,"d":"g"},{"i":126,"v":189,"d":"g"},{"i":127,"v":256,"d":"g"},{"i":128,"v":289,"d":"g"},{"i":129,"v":322,"d":"g"},
      {"i":130,"v":356,"d":"g"},{"i":131,"v":389,"d":"g"},{"i":132,"v":439,"d":"g"},{"i":133,"v":473,"d":"g"},{"i":134,"v":456,"d":"r"},
      {"i":135,"v":423,"d":"r"},{"i":136,"v":373,"d":"r"},{"i":137,"v":356,"d":"r"},{"i":138,"v":389,"d":"g"},{"i":139,"v":392,"d":"g"},
      {"i":140,"v":398,"d":"g"},{"i":141,"v":402,"d":"g"},{"i":142,"v":406.665,"d":"g"},
      {"i":0,"v":-328,"d":"g"},{"i":1,"v":-556,"d":"g"},{"i":2,"v":-534,"d":"r"},{"i":3,"v":-373,"d":"r"},{"i":4,"v":-172,"d":"r"},
      {"i":5,"v":-72,"d":"r"},{"i":6,"v":-70,"d":"r"},{"i":7,"v":-72,"d":"g"},{"i":8,"v":-139,"d":"g"},{"i":9,"v":-200,"d":"g"},
      {"i":10,"v":-172,"d":"r"},{"i":11,"v":-122,"d":"r"},{"i":12,"v":-89,"d":"r"},{"i":13,"v":-56,"d":"r"},{"i":14,"v":-22,"d":"r"},
      {"i":15,"v":-20,"d":"r"},{"i":16,"v":-22,"d":"g"},{"i":17,"v":-50,"d":"g"},{"i":18,"v":-56,"d":"g"},{"i":19,"v":-106,"d":"g"},
      {"i":20,"v":-67,"d":"r"},{"i":21,"v":-39,"d":"r"},{"i":22,"v":-28,"d":"r"},{"i":23,"v":-12,"d":"r"},{"i":24,"v":-8,"d":"r"},
      {"i":25,"v":-5,"d":"r"},{"i":26,"v":-6,"d":"g"},{"i":27,"v":-4,"d":"r"},{"i":28,"v":-3,"d":"r"},{"i":29,"v":-5,"d":"g"},
      {"i":30,"v":-5,"d":"r"},{"i":31,"v":-3,"d":"r"},{"i":32,"v":-6,"d":"g"},{"i":33,"v":-8,"d":"g"},{"i":34,"v":-10,"d":"g"},
      {"i":35,"v":-12,"d":"g"},{"i":36,"v":-15,"d":"g"},{"i":37,"v":-25,"d":"g"},{"i":38,"v":-39,"d":"g"},{"i":39,"v":-83,"d":"g"},
      {"i":40,"v":-111,"d":"g"},{"i":41,"v":-89,"d":"r"},{"i":42,"v":-85,"d":"r"},{"i":43,"v":-95,"d":"g"},{"i":44,"v":-145,"d":"g"},
      {"i":45,"v":-189,"d":"g"},{"i":46,"v":-185,"d":"r"},{"i":47,"v":-161,"d":"r"},{"i":48,"v":-122,"d":"r"},{"i":49,"v":-161,"d":"g"},
      {"i":50,"v":-158,"d":"r"},{"i":51,"v":-111,"d":"r"},{"i":52,"v":-78,"d":"r"},{"i":53,"v":-89,"d":"g"},{"i":54,"v":-189,"d":"g"},
      {"i":55,"v":-289,"d":"g"},{"i":56,"v":-311,"d":"g"},{"i":57,"v":-272,"d":"r"},{"i":58,"v":-289,"d":"g"},{"i":59,"v":-328,"d":"g"},
      {"i":60,"v":-256,"d":"r"},{"i":61,"v":-222,"d":"r"},{"i":62,"v":-225,"d":"g"},{"i":63,"v":-206,"d":"r"},{"i":64,"v":-172,"d":"r"},
      {"i":65,"v":-161,"d":"r"},{"i":66,"v":-122,"d":"r"},{"i":67,"v":-78,"d":"r"},{"i":68,"v":-40,"d":"r"},{"i":69,"v":-10,"d":"r"},
      {"i":70,"v":-22,"d":"g"},{"i":71,"v":-189,"d":"g"},{"i":72,"v":-311,"d":"g"},{"i":73,"v":-328,"d":"g"},{"i":74,"v":-345,"d":"g"},
      {"i":75,"v":-245,"d":"r"},{"i":76,"v":-89,"d":"r"},{"i":77,"v":-60,"d":"r"},{"i":78,"v":-72,"d":"g"},{"i":79,"v":-106,"d":"g"},
      {"i":80,"v":-72,"d":"r"},{"i":81,"v":-10,"d":"r"},{"i":82,"v":-8,"d":"r"},{"i":83,"v":-22,"d":"g"},{"i":84,"v":-24,"d":"g"},
      {"i":85,"v":-139,"d":"g"},{"i":86,"v":-189,"d":"g"},{"i":87,"v":-222,"d":"g"},{"i":88,"v":-206,"d":"r"},{"i":89,"v":-122,"d":"r"},
      {"i":90,"v":-72,"d":"r"},{"i":91,"v":-22,"d":"r"},{"i":92,"v":-72,"d":"g"},{"i":93,"v":-89,"d":"g"},{"i":94,"v":-22,"d":"r"},
      {"i":95,"v":-189,"d":"g"},{"i":96,"v":-373,"d":"g"},{"i":97,"v":-589,"d":"g"},{"i":98,"v":-673,"d":"g"},{"i":99,"v":-670,"d":"r"},
      {"i":100,"v":-456,"d":"r"},{"i":101,"v":-222,"d":"r"},{"i":102,"v":-30,"d":"r"},{"i":103,"v":-15,"d":"r"},{"i":104,"v":-20,"d":"g"},
      {"i":105,"v":-72,"d":"g"},{"i":106,"v":-156,"d":"g"},{"i":107,"v":-122,"d":"r"},{"i":108,"v":-22,"d":"r"},{"i":109,"v":-15,"d":"r"},
      {"i":110,"v":-106,"d":"g"},{"i":111,"v":-156,"d":"g"},{"i":112,"v":-172,"d":"g"},{"i":113,"v":-256,"d":"g"},{"i":114,"v":-339,"d":"g"},
      {"i":115,"v":-345,"d":"g"},{"i":116,"v":-335,"d":"r"},{"i":117,"v":-289,"d":"r"},{"i":118,"v":-206,"d":"r"},{"i":119,"v":-172,"d":"r"},
      {"i":120,"v":-206,"d":"g"},{"i":121,"v":-156,"d":"r"},{"i":122,"v":-56,"d":"r"},{"i":123,"v":-106,"d":"g"},{"i":124,"v":-156,"d":"g"},
      {"i":125,"v":-189,"d":"g"},{"i":126,"v":-256,"d":"g"},{"i":127,"v":-272,"d":"g"},{"i":128,"v":-275,"d":"g"},{"i":129,"v":-339,"d":"g"},
      {"i":130,"v":-389,"d":"g"},{"i":131,"v":-392,"d":"g"},{"i":132,"v":-339,"d":"r"},{"i":133,"v":-272,"d":"r"},{"i":134,"v":-222,"d":"r"},
      {"i":135,"v":-220,"d":"r"},{"i":136,"v":-239,"d":"g"},{"i":137,"v":-272,"d":"g"},{"i":138,"v":-256,"d":"r"},{"i":139,"v":-260,"d":"g"},
      {"i":140,"v":-280.474,"d":"g"}
    ]
  },
  "vconcat": [
    {
      "width": 1220,
      "height": 472,
      "layer": [
        {
          "data": {"name": "bars"},
          "mark": {"type": "rule", "color": "#000000", "strokeWidth": 1, "clip": true},
          "encoding": {
            "x": {
              "field": "i",
              "type": "quantitative",
              "title": null,
              "scale": {"domain": [-0.0625, 152.4375], "nice": false, "zero": false},
              "axis": {
                "values": [0,4,8,12,16,20,24,28,32,36,40,44,48,52,56,60,64,68,72,76,80,84,88,92,96,100,104,108,112,116,120,124,128,132,136,140,144,148,152],
                "tickCount": 60,
                "grid": true,
                "labels": false,
                "ticks": false,
                "gridOpacity": {"condition": {"test": "datum.value > 0", "value": 1}, "value": 0}
              }
            },
            "y": {
              "field": "l",
              "type": "quantitative",
              "title": null,
              "scale": {"domain": [92695.6, 98399.2], "nice": false, "zero": false},
              "axis": {
                "orient": "right",
                "values": [98097.1, 97710.4, 97323.7, 96937, 96550.3, 96163.6, 95776.9, 95390.2, 95003.5, 94616.8, 94230.1, 93843.4, 93456.7, 93070],
                "tickCount": 40,
                "labelExpr": "abs(datum.value - 97323.7) < 1 ? '' : format(datum.value, '.2f')",
                "grid": true,
                "labelOverlap": false,
                "tickSize": 3,
                "labelPadding": 3
              }
            },
            "y2": {"field": "h"}
          }
        },
        {
          "data": {"name": "bars"},
          "mark": {"type": "bar", "width": 4, "stroke": "#000000", "strokeWidth": 1, "clip": true},
          "encoding": {
            "x": {"field": "i", "type": "quantitative", "title": null, "axis": null},
            "y": {"field": "o", "type": "quantitative", "title": null},
            "y2": {"field": "c"},
            "fill": {"condition": {"test": "datum.c >= datum.o", "value": "#ffffff"}, "value": "#000000"}
          }
        },
        {
          "data": {"name": "last"},
          "mark": {"type": "rule", "color": "#e00000", "strokeWidth": 1},
          "encoding": {
            "y": {"field": "p", "type": "quantitative", "title": null}
          }
        },
        {
          "data": {"name": "ma"},
          "mark": {"type": "line", "strokeWidth": 2, "clip": true},
          "encoding": {
            "x": {"field": "i", "type": "quantitative", "title": null, "axis": null},
            "y": {"field": "p", "type": "quantitative", "title": null},
            "color": {
              "field": "k",
              "type": "nominal",
              "scale": {"domain": ["jaw", "teeth", "lips"], "range": ["#0050dc", "#f00000", "#00e800"]},
              "legend": null
            }
          }
        },
        {
          "data": {"name": "fractals"},
          "mark": {"type": "point", "filled": true, "size": 160, "opacity": 1, "color": "#b4b4b4", "stroke": "#8a8a8a", "strokeWidth": 0.6},
          "encoding": {
            "x": {"field": "i", "type": "quantitative", "title": null, "axis": null},
            "y": {"field": "p", "type": "quantitative", "title": null},
            "shape": {
              "field": "t",
              "type": "nominal",
              "scale": {"domain": ["up", "down"], "range": ["M0,-1 L0.8,0.8 L0,0.35 L-0.8,0.8 Z", "M0,1 L0.8,-0.8 L0,-0.35 L-0.8,-0.8 Z"]},
              "legend": null
            }
          }
        },
        {
          "data": {"name": "signal"},
          "mark": {"type": "point", "filled": true, "size": 324, "opacity": 1, "fill": "#ffffff", "stroke": "#78cc78", "strokeWidth": 1.6, "shape": "M0,-1 L1,0 L0.42,0 L0.42,1 L-0.42,1 L-0.42,0 L-1,0 Z"},
          "encoding": {
            "x": {"field": "i", "type": "quantitative", "title": null, "axis": null},
            "y": {"field": "p", "type": "quantitative", "title": null}
          }
        },
        {
          "data": {"name": "last"},
          "mark": {"type": "point", "filled": true, "size": 8836, "opacity": 1, "color": "#c80000", "shape": "M0,-0.12 L1,-0.12 L1,0.12 L0,0.12 Z"},
          "encoding": {
            "x": {"datum": 152.85, "type": "quantitative", "axis": null},
            "y": {"field": "p", "type": "quantitative", "title": null}
          }
        },
        {
          "data": {"name": "last"},
          "mark": {"type": "text", "align": "left", "baseline": "middle", "color": "#ffffff", "font": "Liberation Sans", "fontSize": 9.5},
          "encoding": {
            "x": {"datum": 153.3, "type": "quantitative", "axis": null},
            "y": {"field": "p", "type": "quantitative", "title": null},
            "text": {"field": "p", "type": "quantitative", "format": ".2f"}
          }
        }
      ]
    },
    {
      "width": 1220,
      "height": 100,
      "title": {"text": "AOcust 829.754"},
      "data": {"name": "ao"},
      "mark": {"type": "bar", "width": 4, "clip": true},
      "encoding": {
        "x": {
          "field": "i",
          "type": "quantitative",
          "title": null,
          "scale": {"domain": [-0.0625, 152.4375], "nice": false, "zero": false},
          "axis": {
            "values": [0,4,8,12,16,20,24,28,32,36,40,44,48,52,56,60,64,68,72,76,80,84,88,92,96,100,104,108,112,116,120,124,128,132,136,140,144,148,152],
            "tickCount": 60,
            "grid": true,
            "labels": false,
            "ticks": false,
            "gridOpacity": {"condition": {"test": "datum.value > 0", "value": 1}, "value": 0}
          }
        },
        "y": {
          "field": "v",
          "type": "quantitative",
          "title": null,
          "scale": {"domain": [-1651.752, 1452.839], "nice": false, "zero": false},
          "axis": {
            "orient": "right",
            "values": [1452.839, 0, -1651.752],
            "labelExpr": "datum.value > 0 ? '1452.839' : (datum.value < 0 ? '-1651.752' : '0.000')",
            "labelFlush": true,
            "grid": true,
            "gridOpacity": {"condition": {"test": "datum.value == 0", "value": 1}, "value": 0},
            "tickSize": 3,
            "labelPadding": 3
          }
        },
        "y2": {"datum": 0},
        "color": {"field": "d", "type": "nominal", "scale": {"domain": ["g", "r"], "range": ["#008000", "#ff0000"]}, "legend": null}
      }
    },
    {
      "width": 1220,
      "height": 100,
      "title": {"text": "ACcust 53.1234"},
      "data": {"name": "ac"},
      "mark": {"type": "bar", "width": 4, "clip": true},
      "encoding": {
        "x": {
          "field": "i",
          "type": "quantitative",
          "title": null,
          "scale": {"domain": [-0.0625, 152.4375], "nice": false, "zero": false},
          "axis": {
            "values": [0,4,8,12,16,20,24,28,32,36,40,44,48,52,56,60,64,68,72,76,80,84,88,92,96,100,104,108,112,116,120,124,128,132,136,140,144,148,152],
            "tickCount": 60,
            "grid": true,
            "labels": false,
            "ticks": false,
            "gridOpacity": {"condition": {"test": "datum.value > 0", "value": 1}, "value": 0}
          }
        },
        "y": {
          "field": "v",
          "type": "quantitative",
          "title": null,
          "scale": {"domain": [-780.7933, 726.4625], "nice": false, "zero": false},
          "axis": {
            "orient": "right",
            "values": [726.4625, 0, -780.7933],
            "labelExpr": "datum.value > 0 ? '726.4625' : (datum.value < 0 ? '-780.7933' : '0.0000')",
            "labelFlush": true,
            "grid": true,
            "gridOpacity": {"condition": {"test": "datum.value == 0", "value": 1}, "value": 0},
            "tickSize": 3,
            "labelPadding": 3
          }
        },
        "y2": {"datum": 0},
        "color": {"field": "d", "type": "nominal", "scale": {"domain": ["g", "r"], "range": ["#008000", "#ff0000"]}, "legend": null}
      }
    },
    {
      "width": 1220,
      "height": 100,
      "title": {"text": "GatorCust 406.665 -280.474"},
      "data": {"name": "gator"},
      "mark": {"type": "bar", "width": 4, "clip": true},
      "encoding": {
        "x": {
          "field": "i",
          "type": "quantitative",
          "title": null,
          "scale": {"domain": [-0.0625, 152.4375], "nice": false, "zero": false},
          "axis": {
            "values": [0,4,8,12,16,20,24,28,32,36,40,44,48,52,56,60,64,68,72,76,80,84,88,92,96,100,104,108,112,116,120,124,128,132,136,140,144,148,152],
            "tickCount": 60,
            "grid": true,
            "gridOpacity": {"condition": {"test": "datum.value > 0", "value": 1}, "value": 0},
            "ticks": true,
            "tickSize": 5,
            "tickOpacity": {"condition": {"test": "datum.value % 8 == 0 && datum.value <= 136", "value": 1}, "value": 0},
            "labelAlign": "left",
            "labelBaseline": "top",
            "labelPadding": 0,
            "labelBound": false,
            "labelFlush": false,
            "labelExpr": "(datum.value % 8 == 0 && datum.value <= 136) ? (datum.value == 0 ? '14 Feb 2025' : timeFormat(datetime(2025, 1, 14, 22 + datum.value, 0), '%d %b %H:%M')) : ''"
          }
        },
        "y": {
          "field": "v",
          "type": "quantitative",
          "title": null,
          "scale": {"domain": [-834.326, 828.19], "nice": false, "zero": false},
          "axis": {
            "orient": "right",
            "zindex": 1,
            "values": [828.19, 0, -834.326],
            "labelExpr": "datum.value > 0 ? '828.190' : (datum.value < 0 ? '-834.326' : '0.000')",
            "labelFlush": true,
            "grid": true,
            "gridOpacity": {"condition": {"test": "datum.value == 0", "value": 1}, "value": 0},
            "tickSize": 3,
            "labelPadding": 3
          }
        },
        "y2": {"datum": 0},
        "color": {"field": "d", "type": "nominal", "scale": {"domain": ["g", "r"], "range": ["#008000", "#ff0000"]}, "legend": null}
      }
    }
  ]
}
